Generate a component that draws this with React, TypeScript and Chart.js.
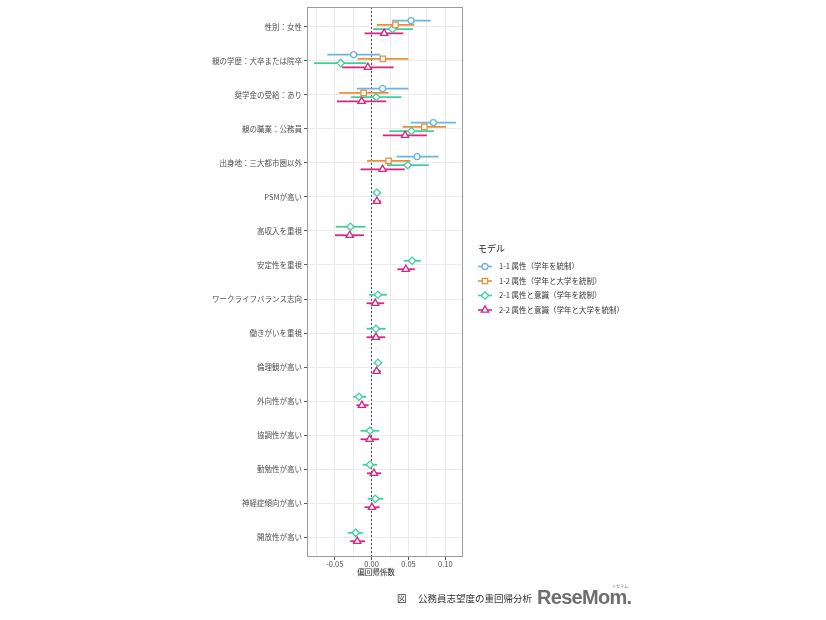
import React, { useEffect, useRef } from 'react';
import { Chart, registerables } from 'chart.js';

Chart.register(...registerables);

const categories = [
  '性別：女性',
  '親の学歴：大卒または院卒',
  '奨学金の受給：あり',
  '親の職業：公務員',
  '出身地：三大都市圏以外',
  'PSMが高い',
  '高収入を重視',
  '安定性を重視',
  'ワークライフバランス志向',
  '働きがいを重視',
  '倫理観が高い',
  '外向性が高い',
  '協調性が高い',
  '勤勉性が高い',
  '神経症傾向が高い',
  '開放性が高い',
];

const modelNames = [
  '1-1 属性（学年を統制）',
  '1-2 属性（学年と大学を統制）',
  '2-1 属性と意識（学年を統制）',
  '2-2 属性と意識（学年と大学を統制）',
];

const m11Est = [0.0536, -0.0243, 0.0149, 0.0838, 0.0617, null, null, null, null, null, null, null, null, null, null, null];
const m11Lo = [0.0275, -0.060, -0.020, 0.053, 0.034, null, null, null, null, null, null, null, null, null, null, null];
const m11Hi = [0.080, 0.012, 0.050, 0.1144, 0.091, null, null, null, null, null, null, null, null, null, null, null];

const m12Est = [0.0324, 0.0153, -0.0108, 0.0716, 0.023, null, null, null, null, null, null, null, null, null, null, null];
const m12Lo = [0.0072, -0.019, -0.044, 0.042, -0.006, null, null, null, null, null, null, null, null, null, null, null];
const m12Hi = [0.058, 0.050, 0.023, 0.101, 0.0527, null, null, null, null, null, null, null, null, null, null, null];

const m21Est = [0.0284, -0.0419, 0.0063, 0.054, 0.049, 0.0072, -0.0288, 0.055, 0.0086, 0.0059, 0.0086, -0.0171, -0.0022, -0.0022, 0.005, -0.0216];
const m21Lo = [0.002, -0.078, -0.028, 0.024, 0.021, 0.003, -0.0486, 0.0437, -0.0036, -0.0068, 0.0045, -0.025, -0.015, -0.012, -0.0054, -0.0324];
const m21Hi = [0.056, -0.007, 0.0405, 0.0847, 0.0775, 0.011, -0.008, 0.0667, 0.0207, 0.019, 0.0125, -0.007, 0.0104, 0.0077, 0.016, -0.0117];

const m22Est = [0.0171, -0.005, -0.0135, 0.0455, 0.0149, 0.0072, -0.0297, 0.0464, 0.005, 0.0059, 0.0068, -0.0131, -0.0027, 0.0032, 0.0005, -0.0194];
const m22Lo = [-0.0095, -0.040, -0.047, 0.0153, -0.015, 0.002, -0.0496, 0.035, -0.0068, -0.0068, 0.002, -0.0207, -0.015, -0.0063, -0.0095, -0.029];
const m22Hi = [0.043, 0.030, 0.020, 0.075, 0.045, 0.0126, -0.0104, 0.0586, 0.0171, 0.0185, 0.0126, -0.004, 0.0099, 0.013, 0.0108, -0.009];

const xGridBreaks = [-0.075, -0.05, -0.025, 0, 0.025, 0.05, 0.075, 0.1];
const xMajorBreaks = [-0.05, 0, 0.05, 0.1];
const xTickLabels = ['-0.05', '0.00', '0.05', '0.10'];
const xAxisTitle = '偏回帰係数';
const legendTitle = 'モデル';

const COLORS = ['#6cb5de', '#e8903a', '#3fcf9f', '#d82580'];
const SHAPES = ['circle', 'rect', 'rectRot', 'triangle'];
const RADII = [3, 3.8, 3.7, 4.2];
const FONT = '"Noto Sans CJK JP", "Noto Sans", sans-serif';
const DODGE = 0.5;

const models = [
  { est: m11Est, lo: m11Lo, hi: m11Hi },
  { est: m12Est, lo: m12Lo, hi: m12Hi },
  { est: m21Est, lo: m21Lo, hi: m21Hi },
  { est: m22Est, lo: m22Lo, hi: m22Hi },
];

function buildData(mi: number) {
  const out: any[] = [];
  categories.forEach((_, ci) => {
    const m = models[mi];
    if (m.est[ci] == null) return;
    const present = models.map((mm, k) => (mm.est[ci] != null ? k : -1)).filter((k) => k >= 0);
    const n = present.length;
    const pos = present.indexOf(mi);
    const off = (pos - (n - 1) / 2) * (DODGE / n);
    out.push({ x: m.est[ci], y: ci + off, lo: m.lo[ci], hi: m.hi[ci] });
  });
  return out;
}

function drawShape(ctx: CanvasRenderingContext2D, shape: string, x: number, y: number, r: number) {
  ctx.beginPath();
  if (shape === 'circle') {
    ctx.arc(x, y, r, 0, Math.PI * 2);
  } else if (shape === 'rect') {
    const s = Math.SQRT1_2 * r;
    ctx.rect(x - s, y - s, 2 * s, 2 * s);
  } else if (shape === 'rectRot') {
    ctx.moveTo(x, y - r);
    ctx.lineTo(x + r, y);
    ctx.lineTo(x, y + r);
    ctx.lineTo(x - r, y);
    ctx.closePath();
  } else {
    const a = (2 * Math.PI) / 3;
    ctx.moveTo(x, y - r);
    ctx.lineTo(x + Math.sin(a) * r, y - Math.cos(a) * r);
    ctx.lineTo(x + Math.sin(2 * a) * r, y - Math.cos(2 * a) * r);
    ctx.closePath();
  }
  ctx.fill();
  ctx.stroke();
}

const forestPlugin = {
  id: 'forestPlugin',
  beforeDatasetsDraw(chart: any) {
    const { ctx, chartArea, scales } = chart;
    const xs = scales.x;
    const ys = scales.y;
    ctx.save();
    ctx.beginPath();
    ctx.rect(chartArea.left, chartArea.top, chartArea.right - chartArea.left, chartArea.bottom - chartArea.top);
    ctx.clip();
    const x0 = xs.getPixelForValue(0);
    ctx.strokeStyle = '#222';
    ctx.lineWidth = 0.8;
    ctx.setLineDash([2, 2]);
    ctx.beginPath();
    ctx.moveTo(x0, chartArea.top);
    ctx.lineTo(x0, chartArea.bottom);
    ctx.stroke();
    ctx.setLineDash([]);
    chart.data.datasets.forEach((ds: any) => {
      ctx.strokeStyle = ds.borderColor;
      ctx.lineWidth = 1.8;
      ds.data.forEach((p: any) => {
        const yp = ys.getPixelForValue(p.y);
        ctx.beginPath();
        ctx.moveTo(xs.getPixelForValue(p.lo), yp);
        ctx.lineTo(xs.getPixelForValue(p.hi), yp);
        ctx.stroke();
      });
    });
    ctx.restore();
  },
  afterDraw(chart: any) {
    const { ctx, chartArea } = chart;
    ctx.save();
    ctx.strokeStyle = '#9a9a9a';
    ctx.lineWidth = 1;
    ctx.strokeRect(
      Math.round(chartArea.left) + 0.5,
      Math.round(chartArea.top) + 0.5,
      Math.round(chartArea.right - chartArea.left) - 1,
      Math.round(chartArea.bottom - chartArea.top) - 1
    );
    // x-axis title
    ctx.fillStyle = '#222';
    ctx.font = `7.5px ${FONT}`;
    ctx.textAlign = 'center';
    ctx.textBaseline = 'middle';
    ctx.fillText(xAxisTitle, chartArea.left + 69, chartArea.bottom + 15.5);
    // legend
    const lx = 478;
    ctx.fillStyle = '#222';
    ctx.font = `9px ${FONT}`;
    ctx.textBaseline = 'middle';
    ctx.textAlign = 'left';
    ctx.fillText(legendTitle, lx, 249);
    const ly = [266.5, 281, 295.5, 310];
    chart.data.datasets.forEach((ds: any, i: number) => {
      const y = ly[i];
      ctx.strokeStyle = ds.borderColor;
      ctx.lineWidth = 1.6;
      ctx.beginPath();
      ctx.moveTo(lx, y);
      ctx.lineTo(lx + 14, y);
      ctx.stroke();
      ctx.fillStyle = '#fff';
      ctx.lineWidth = 1.3;
      drawShape(ctx, SHAPES[i], lx + 7, y, RADII[i]);
      ctx.fillStyle = '#333';
      ctx.font = `7.5px ${FONT}`;
      ctx.fillText(ds.label, lx + 21, y);
    });
    ctx.restore();
  },
};

export default function App() {
  const ref = useRef<HTMLCanvasElement | null>(null);
  useEffect(() => {
    if (!ref.current) return;
    const chart = new Chart(ref.current, {
      type: 'scatter',
      data: {
        datasets: models.map((_, i) => ({
          label: modelNames[i],
          data: buildData(i),
          borderColor: COLORS[i],
          backgroundColor: '#ffffff',
          pointStyle: SHAPES[i] as any,
          pointRadius: RADII[i],
          pointBorderWidth: 1.3,
          pointHoverRadius: RADII[i],
        })),
      },
      options: {
        animation: false,
        responsive: false,
        maintainAspectRatio: false,
        layout: { padding: { left: 0, top: 7, right: 363, bottom: 40 } },
        plugins: { legend: { display: false }, tooltip: { enabled: false } },
        scales: {
          x: {
            type: 'linear',
            min: -0.0876,
            max: 0.124,
            afterBuildTicks: (scale: any) => {
              scale.ticks = xGridBreaks.map((v) => ({ value: v }));
            },
            afterFit: (scale: any) => {
              scale.height = 23;
            },
            border: { display: false },
            grid: {
              color: '#ebebeb',
              lineWidth: 1,
              tickLength: 3,
              tickColor: (c: any) =>
                xMajorBreaks.some((b) => Math.abs(b - c.tick.value) < 1e-9) ? '#555' : 'rgba(0,0,0,0)',
            },
            ticks: {
              autoSkip: false,
              maxRotation: 0,
              padding: 0,
              color: '#4d4d4d',
              font: { family: FONT, size: 7.5 },
              callback: (v: any) => {
                const k = xMajorBreaks.findIndex((b) => Math.abs(b - Number(v)) < 1e-9);
                return k >= 0 ? xTickLabels[k] : '';
              },
            },
          },
          y: {
            type: 'linear',
            reverse: true,
            min: -0.588,
            max: 15.588,
            afterBuildTicks: (scale: any) => {
              scale.ticks = categories.map((_, i) => ({ value: i }));
            },
            afterFit: (scale: any) => {
              scale.width = 307;
            },
            border: { display: false },
            grid: { color: '#ebebeb', lineWidth: 1, tickLength: 3, tickColor: '#555' },
            ticks: {
              autoSkip: false,
              padding: 2,
              color: '#4d4d4d',
              font: { family: FONT, size: 7.5 },
              callback: (v: any) => categories[Math.round(Number(v))] ?? '',
            },
          },
        },
      },
      plugins: [forestPlugin],
    });
    return () => chart.destroy();
  }, []);

  return (
    <div style={{ position: 'absolute', left: 0, top: 0, width: 826, height: 620, background: '#fff', overflow: 'hidden' }}>
      <canvas ref={ref} width={826} height={620} style={{ position: 'absolute', left: 0, top: 0 }} />
      <div style={{ position: 'absolute', left: 397, top: 592, fontFamily: FONT, fontSize: 9.5, lineHeight: '12px', color: '#333', whiteSpace: 'nowrap' }}>図</div>
      <div style={{ position: 'absolute', left: 418, top: 592, fontFamily: FONT, fontSize: 9.5, lineHeight: '12px', color: '#333', whiteSpace: 'nowrap' }}>公務員志望度の重回帰分析</div>
      <div style={{ position: 'absolute', left: 537, top: 587, fontFamily: '"Liberation Sans", Arial, sans-serif', fontWeight: 'bold', fontSize: 20, lineHeight: '21px', color: '#6e6e6e', letterSpacing: -0.7, whiteSpace: 'nowrap' }}>ReseMom.</div>
      <div style={{ position: 'absolute', left: 612, top: 584, fontFamily: FONT, fontSize: 4, lineHeight: '5px', color: '#777', whiteSpace: 'nowrap' }}>リセマム</div>
    </div>
  );
}
